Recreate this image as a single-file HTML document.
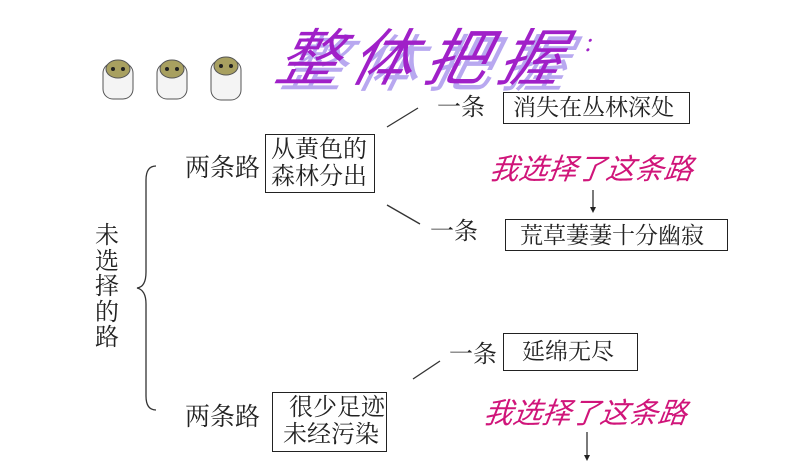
<!DOCTYPE html>
<html><head><meta charset="utf-8"><style>
body{margin:0;width:792px;height:462px;background:#fff;overflow:hidden;position:relative;font-family:"Liberation Serif","Noto Serif CJK SC",serif;color:#222}
.t{position:absolute;white-space:nowrap;line-height:1}
.b{position:absolute;border:1.5px solid #222;box-sizing:border-box}
.m{position:absolute;color:#d0157a;font-style:italic;font-family:"Liberation Sans","Noto Sans CJK SC",sans-serif;font-size:29px;line-height:1;transform:skewX(-8deg);white-space:nowrap}
.h{position:absolute;font-size:62px;font-style:italic;font-family:'Noto Sans CJK SC',sans-serif;letter-spacing:12px;transform:skewX(-14deg);white-space:nowrap;line-height:1}
</style></head><body>
<svg width="792" height="462" style="position:absolute;left:0;top:0">
<g stroke="#333" stroke-width="1.3" fill="none">
<path d="M156,166 Q146,166 146,180 L146,272 Q146,287 137,288 Q146,290 146,304 L146,396 Q146,410 156,410"/>
<line x1="387" y1="127" x2="418" y2="108"/>
<line x1="387" y1="205" x2="420" y2="224"/>
<line x1="413" y1="379" x2="440" y2="361"/>
<line x1="593" y1="190" x2="593" y2="208"/>
<line x1="587" y1="432" x2="587" y2="456"/>
</g>
<polygon points="590,207 596,207 593,213" fill="#222"/>
<polygon points="584,455 590,455 587,461" fill="#222"/>
<g>
<g transform="translate(101,55)"><rect x="2" y="8" width="30" height="36" rx="10" fill="#f4f4f4" stroke="#555"/><ellipse cx="17" cy="14" rx="12" ry="9" fill="#a8a060" stroke="#555"/><circle cx="12" cy="14" r="2" fill="#222"/><circle cx="22" cy="14" r="2" fill="#222"/></g>
<g transform="translate(155,55)"><rect x="2" y="8" width="30" height="36" rx="10" fill="#f4f4f4" stroke="#555"/><ellipse cx="17" cy="14" rx="12" ry="9" fill="#a8a060" stroke="#555"/><circle cx="12" cy="14" r="2" fill="#222"/><circle cx="22" cy="14" r="2" fill="#222"/></g>
<g transform="translate(209,52)"><rect x="2" y="8" width="30" height="40" rx="10" fill="#f4f4f4" stroke="#555"/><ellipse cx="17" cy="14" rx="12" ry="9" fill="#a8a060" stroke="#555"/><circle cx="12" cy="14" r="2" fill="#222"/><circle cx="22" cy="14" r="2" fill="#222"/></g>
</g>
</svg>
<div class="h" style="left:286px;top:28px;color:#b8a8f0">整体把握</div>
<div class="h" style="left:280px;top:22px;color:#a020c8">整体把握</div>
<div class="t" style="left:586px;top:30px;font-size:26px;color:#a020c8;transform:skewX(-14deg)">:</div>
<div class="t" style="left:95px;top:224px;font-size:24px;width:24px;white-space:normal;line-height:25.5px">未选择的路</div>
<div class="t" style="left:185px;top:156px;font-size:25px">两条路</div>
<div class="t" style="left:185px;top:405px;font-size:25px">两条路</div>
<div class="b" style="left:265px;top:134px;width:110px;height:59px"></div>
<div class="t" style="left:271px;top:137px;font-size:24px;line-height:27px">从黄色的<br>森林分出</div>
<div class="b" style="left:272px;top:392px;width:115px;height:60px"></div>
<div class="t" style="left:283px;top:395px;font-size:24px;line-height:27px">&nbsp;很少足迹<br>未经污染</div>
<div class="t" style="left:437px;top:96px;font-size:24px">一条</div>
<div class="b" style="left:503px;top:92px;width:187px;height:32px"></div>
<div class="t" style="left:513px;top:96px;font-size:23px">消失在丛林深处</div>
<div class="m" style="left:490px;top:156px">我选择了这条路</div>
<div class="t" style="left:430px;top:220px;font-size:24px">一条</div>
<div class="b" style="left:505px;top:219px;width:223px;height:32px"></div>
<div class="t" style="left:520px;top:224px;font-size:23px">荒草萋萋十分幽寂</div>
<div class="t" style="left:449px;top:343px;font-size:24px">一条</div>
<div class="b" style="left:503px;top:333px;width:135px;height:38px"></div>
<div class="t" style="left:522px;top:340px;font-size:23px">延绵无尽</div>
<div class="m" style="left:484px;top:400px">我选择了这条路</div>
</body></html>
